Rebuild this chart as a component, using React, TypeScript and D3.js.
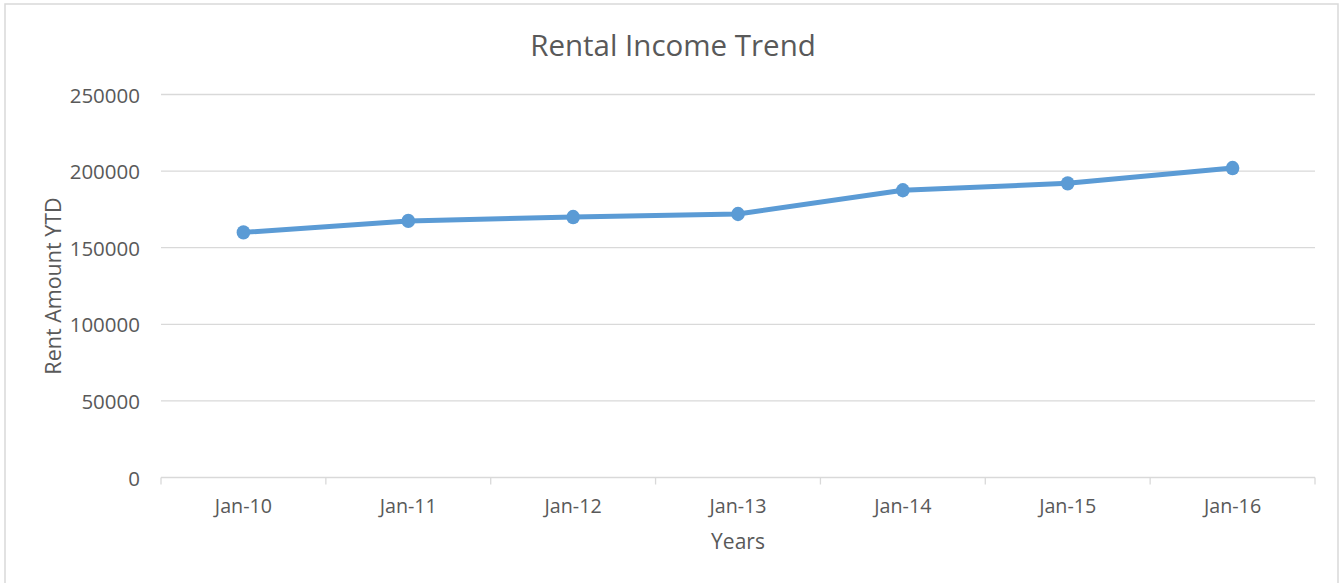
import React from "react";
import * as d3 from "d3";

const categories = ["Jan-10", "Jan-11", "Jan-12", "Jan-13", "Jan-14", "Jan-15", "Jan-16"];
const rentValues = [160000, 167500, 170000, 172000, 187500, 192000, 202000];
const yTicks = [0, 50000, 100000, 150000, 200000, 250000];

const W = 1341;
const H = 583;
const plot = { left: 161, right: 1315, top: 94.5, bottom: 477.5 };
const FONT = "'Open Sans', 'Liberation Sans', sans-serif";
const TEXT = "#595959";
const GRID = "#d9d9d9";
const LINE = "#5b9bd5";

export default function App() {
  const x = d3.scaleBand<string>().domain(categories).range([plot.left, plot.right]).paddingInner(0).paddingOuter(0);
  const y = d3.scaleLinear().domain([0, 250000]).range([plot.bottom, plot.top]);
  const cx = (c: string) => (x(c) as number) + x.bandwidth() / 2;
  const line = d3
    .line<number>()
    .x((_, i) => cx(categories[i]))
    .y((d) => y(d));
  const boundaries = d3.range(categories.length + 1).map((i) => plot.left + i * x.bandwidth());

  return (
    <svg width={W} height={H} style={{ position: "absolute", left: 0, top: 0, display: "block" }}>
      <rect x={0} y={0} width={W} height={H} fill="#fff" />
      <rect x={5} y={4} width={1333} height={H + 10} fill="#fff" stroke={GRID} strokeWidth={1.5} />
      <text x={673} y={44} textAnchor="middle" dominantBaseline="central" fontFamily={FONT} fontSize={29.5} fill={TEXT}>
        Rental Income Trend
      </text>
      {yTicks.map((t) => (
        <g key={t}>
          <line x1={plot.left} x2={plot.right} y1={y(t)} y2={y(t)} stroke={GRID} strokeWidth={1.3} />
          <text x={140} y={y(t)} textAnchor="end" dominantBaseline="central" fontFamily={FONT} fontSize={20.5} fill={TEXT}>
            {t}
          </text>
        </g>
      ))}
      {boundaries.map((b, i) => (
        <line key={i} x1={b} x2={b} y1={plot.bottom} y2={plot.bottom + 7} stroke={GRID} strokeWidth={1.3} />
      ))}
      {categories.map((c) => (
        <text key={c} x={cx(c)} y={505} textAnchor="middle" dominantBaseline="central" fontFamily={FONT} fontSize={19.7} fill={TEXT}>
          {c}
        </text>
      ))}
      <text x={738} y={541} textAnchor="middle" dominantBaseline="central" fontFamily={FONT} fontSize={21} fill={TEXT}>
        Years
      </text>
      <text
        transform={`translate(52, ${(plot.top + plot.bottom) / 2}) rotate(-90)`}
        textAnchor="middle"
        dominantBaseline="central"
        fontFamily={FONT}
        fontSize={21.5}
        fill={TEXT}
      >
        Rent Amount YTD
      </text>
      <path d={line(rentValues) || ""} fill="none" stroke={LINE} strokeWidth={5} strokeLinejoin="round" strokeLinecap="round" />
      {rentValues.map((v, i) => (
        <ellipse key={i} cx={cx(categories[i])} cy={y(v)} rx={6.8} ry={7.2} fill={LINE} />
      ))}
    </svg>
  );
}
